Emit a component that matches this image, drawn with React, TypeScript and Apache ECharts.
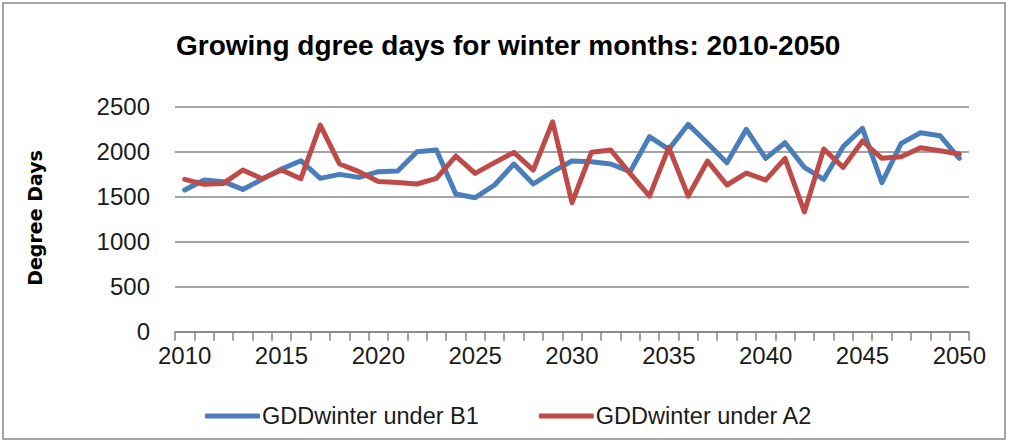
import React, { useEffect, useRef } from "react";
import * as echarts from "echarts";

const years: string[] = [];
for (let y = 2010; y <= 2050; y++) years.push(String(y));

const gddB1 = [
  1574, 1685, 1667, 1581, 1693, 1807, 1900, 1704, 1748, 1715,
  1778, 1785, 2000, 2019, 1530, 1489, 1630, 1863, 1641, 1778,
  1896, 1889, 1863, 1778, 2167, 2026, 2304, 2093, 1878, 2248,
  1926, 2100, 1826, 1693, 2056, 2259, 1656, 2093, 2211, 2178,
  1926,
];

const gddA2 = [
  1693, 1637, 1648, 1796, 1700, 1796, 1700, 2296, 1863, 1778,
  1670, 1659, 1641, 1704, 1952, 1759, 1878, 1993, 1796, 2333,
  1433, 1993, 2019, 1759, 1507, 2048, 1507, 1896, 1630, 1763,
  1685, 1926, 1330, 2030, 1826, 2119, 1926, 1944, 2044, 2011,
  1974,
];

const seriesNames = ["GDDwinter under B1", "GDDwinter under A2"];
const titleText = "Growing dgree days for winter months: 2010-2050";
const yAxisTitle = "Degree Days";

const FONT = "'Liberation Sans', Arial, sans-serif";
const GRID = "#868686";
const TEXT = "#1a1a1a";

export default function App() {
  const ref = useRef<HTMLDivElement>(null);
  useEffect(() => {
    if (!ref.current) return;
    const chart = echarts.init(ref.current, null, { renderer: "svg" });
    chart.setOption({
      animation: false,
      backgroundColor: "#ffffff",
      title: {
        text: titleText,
        left: 176,
        top: 31,
        padding: 0,
        textStyle: { fontFamily: FONT, fontSize: 28, fontWeight: "bold", color: "#000" },
      },
      graphic: [
        {
          type: "rect",
          shape: { x: 3, y: 3, width: 1002, height: 436 },
          style: { fill: "none", stroke: GRID, lineWidth: 1.5 },
          silent: true,
        },
        {
          type: "text",
          x: 35,
          y: 218,
          rotation: Math.PI / 2,
          style: {
            text: yAxisTitle,
            textAlign: "center",
            textVerticalAlign: "middle",
            fontFamily: "'DejaVu Sans', Verdana, sans-serif",
            fontWeight: "bold",
            fontSize: 19,
            fill: "#000",
          },
        },
      ],
      legend: {
        data: seriesNames,
        left: 205,
        top: 404,
        padding: 0,
        itemWidth: 55,
        itemHeight: 5,
        itemGap: 60,
        icon: "roundRect",
        textStyle: { fontFamily: FONT, fontSize: 23.5, color: TEXT, padding: [0, 0, 0, -3] },
      },
      grid: { left: 175, right: 41, top: 106.7, bottom: 112.3, containLabel: false },
      xAxis: {
        type: "category",
        data: years,
        boundaryGap: true,
        axisLine: { show: true, lineStyle: { color: GRID, width: 1.5 } },
        axisTick: { show: true, interval: 0, length: 9, lineStyle: { color: GRID, width: 1.5 } },
        axisLabel: { interval: 4, margin: 12, fontFamily: FONT, fontSize: 24, color: TEXT },
        splitLine: { show: false },
      },
      yAxis: {
        type: "value",
        min: 0,
        max: 2500,
        interval: 500,
        axisLine: { show: false },
        axisTick: { show: false },
        axisLabel: {
          margin: 25,
          fontFamily: FONT,
          fontSize: 24,
          color: TEXT,
          formatter: (v: number) => String(v),
        },
        splitLine: { show: true, lineStyle: { color: GRID, width: 1.5 } },
      },
      series: [
        {
          name: seriesNames[0],
          type: "line",
          data: gddB1,
          symbol: "none",
          lineStyle: { color: "#4A7EBB", width: 5, cap: "round", join: "round" },
          itemStyle: { color: "#4A7EBB" },
        },
        {
          name: seriesNames[1],
          type: "line",
          data: gddA2,
          symbol: "none",
          lineStyle: { color: "#BE4B48", width: 5, cap: "round", join: "round" },
          itemStyle: { color: "#BE4B48" },
        },
      ],
    });
    return () => chart.dispose();
  }, []);
  return (
    <div
      ref={ref}
      style={{ position: "absolute", left: 0, top: 0, width: 1010, height: 444 }}
    />
  );
}
